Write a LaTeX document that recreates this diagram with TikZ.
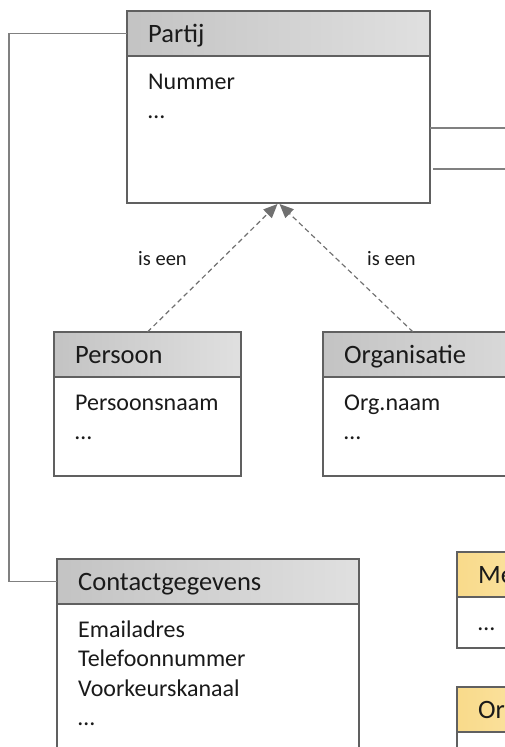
\documentclass[tikz,border=0pt]{standalone}
\usepackage{fontspec}
\setmainfont{Carlito}
\usetikzlibrary{calc,arrows.meta}
\definecolor{boxgray}{HTML}{606060}
\definecolor{conngray}{HTML}{808080}
\definecolor{txt}{HTML}{1A1A1A}
\definecolor{gA}{HTML}{D4D4D4}
\definecolor{gB}{HTML}{BDBDBD}
\definecolor{gC}{HTML}{EEEEEE}
\definecolor{yA}{HTML}{FBE3A0}
\definecolor{yB}{HTML}{F8D782}
\definecolor{yC}{HTML}{FEF0C4}
\pgfdeclarehorizontalshading{hdrgray}{100bp}{color(0bp)=(gA); color(14bp)=(gB); color(100bp)=(gC)}
\pgfdeclarehorizontalshading{hdryellow}{100bp}{color(0bp)=(yA); color(14bp)=(yB); color(100bp)=(yC)}
\tikzset{
  hdr/.style={draw=boxgray, line width=2.2pt, inner sep=0pt, outer sep=0pt, minimum height=45pt, shading=hdrgray},
  yellowhdr/.style={shading=hdryellow},
  bodybox/.style={draw=boxgray, line width=2.2pt, inner sep=0pt, outer sep=0pt, fill=white},
  titletext/.style={inner sep=0pt, text=txt, font=\fontsize{26.5}{31}\selectfont},
  bodytext/.style={inner sep=0pt, text=txt, font=\fontsize{24}{29}\selectfont},
  conn/.style={draw=conngray, line width=1.5pt},
  realize/.style={draw=boxgray!90, line width=1.2pt, dash pattern=on 5pt off 3.5pt, -{Triangle[length=14pt,width=12pt]}},
  lbl/.style={inner sep=0pt, text=txt, font=\fontsize{20.5}{24}\selectfont}
}
\newcommand\umlbox[8]{%
  \node[hdr, #6, minimum width=#4, anchor=north west] (#1h) at (#2,#3) {};
  \node[titletext, anchor=base west] (#1t) at ($(#1h.north west)+(21,31)$) {#7};
  \node[bodybox, minimum width=#4, minimum height=#5, anchor=north west] (#1b) at (#1h.south west) {};
  \foreach \l [count=\i, evaluate=\i as \yy using 33+(\i-1)*29.5] in {#8}
    \node[bodytext, anchor=base west] (#1l\i) at ($(#1b.north west)+(21,\yy)$) {\l};
}
\begin{document}
\begin{tikzpicture}[x=1pt,y=-1pt]
\useasboundingbox (0,0) rectangle (505,747);
\clip (0,0) rectangle (505,747);
% boxes
\umlbox{partij}{127}{11}{303}{147}{}{Partij}{Nummer,…}
\umlbox{persoon}{54}{332}{187}{99}{}{Persoon}{Persoonsnaam,…}
\umlbox{org}{323}{332}{250}{99}{}{Organisatie}{Org.naam,…}
\umlbox{contact}{57}{559}{302}{220}{}{Contactgegevens}{Emailadres,Telefoonnummer,Voorkeurskanaal,…}
\umlbox{me}{457}{552}{120}{51}{yellowhdr}{Me}{…}
\umlbox{or}{457}{687}{120}{80}{yellowhdr}{Or}{}
% connectors
\coordinate (lc) at (9,0);
\draw[conn] (partijh.west) -- (partijh.west -| lc) |- (contacth.west);
\coordinate (r1) at (515,128);
\draw[conn] (partijb.east |- r1) -- (r1);
\coordinate (r2s) at (433,169);
\coordinate (r2) at (515,169);
\draw[conn] (r2s) -- (r2);
% generalisations
\coordinate (orgtop) at ($(orgh.north west)+(90,0)$);
\draw[realize] (persoonh.north) -- ($(partijb.south)+(-1,1)$);
\draw[realize] (orgtop) -- ($(partijb.south)+(1,1)$);
\node[lbl, anchor=base west] (lbl1) at (138,265) {is een};
\node[lbl, anchor=base west] (lbl2) at (367,265) {is een};
\end{tikzpicture}
\end{document}
